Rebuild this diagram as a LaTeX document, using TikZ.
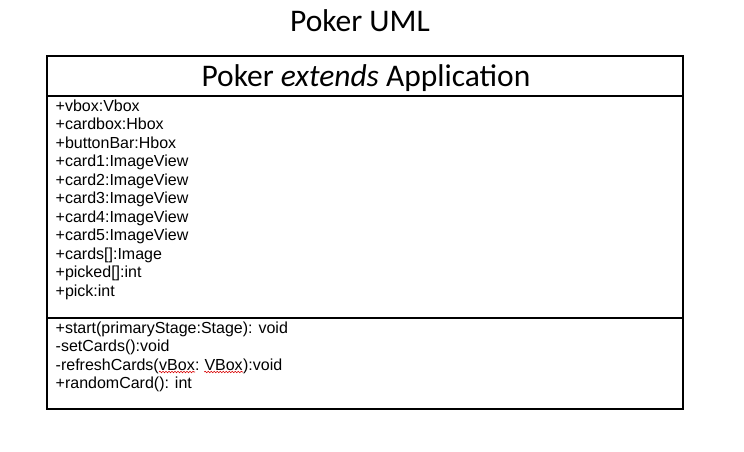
\documentclass[tikz,border=0pt]{standalone}
\usepackage{fontspec}
\setmainfont{Liberation Sans}
\newfontfamily\calibri{Carlito}
\usetikzlibrary{decorations.pathmorphing}

\tikzset{
  heading/.style={font=\calibri\fontsize{31.5}{36}\selectfont, inner sep=0pt, anchor=base},
  member/.style={font=\fontsize{16}{18.5}\selectfont, inner sep=0pt, anchor=base west},
  frame/.style={draw=black, line width=1.1pt},
  spellmark/.style={draw=red!85!black, line width=0.6pt,
    decorate, decoration={snake, amplitude=0.8pt, segment length=3pt}},
}

\begin{document}
\begin{tikzpicture}[x=1pt, y=-1pt]
\useasboundingbox[fill=white] (0,0) rectangle (744,452);

% title
\node[heading] (title) at (360,32) {Poker UML};

% class frame and compartments
\coordinate (tl) at (47,56);
\coordinate (br) at (683,409);
\coordinate (d1l) at (47,96);
\coordinate (d1r) at (683,96);
\coordinate (d2l) at (47,318);
\coordinate (d2r) at (683,318);
\draw[frame] (tl) rectangle (br);
\draw[frame] (d1l) -- (d1r);
\draw[frame] (d2l) -- (d2r);

\node[heading] (classname) at (366,86) {Poker \textit{extends} Application};

% attributes
\foreach \txt [count=\i from 0] in {+vbox:Vbox, +cardbox:Hbox, +buttonBar:Hbox,
    +card1:ImageView, +card2:ImageView, +card3:ImageView, +card4:ImageView,
    +card5:ImageView, {+cards[]:Image}, {+picked[]:int}, +pick:int}
  \node[member] (attr\i) at (55.5,111+18.5*\i) {\txt};

% operations
\node[member] (op0) at (55.5,333) {+start(primaryStage:Stage): void};
\node[member] (op1) at (55.5,351.5) {-setCards():void};
\node[member] (op2a) at (55.5,370) {-refreshCards(};
\node[member] (op2b) at (op2a.base east) {vBox};
\node[member] (op2c) at (op2b.base east) {:\kern4.45pt};
\node[member] (op2d) at (op2c.base east) {VBox};
\node[member] (op2e) at (op2d.base east) {):void};
\node[member] (op3) at (55.5,388.5) {+randomCard(): int};

% spell-check underlines
\draw[spellmark] ([yshift=-2pt]op2b.base west) -- ([yshift=-2pt]op2b.base east);
\draw[spellmark] ([yshift=-2pt]op2d.base west) -- ([yshift=-2pt]op2d.base east);
\end{tikzpicture}
\end{document}
